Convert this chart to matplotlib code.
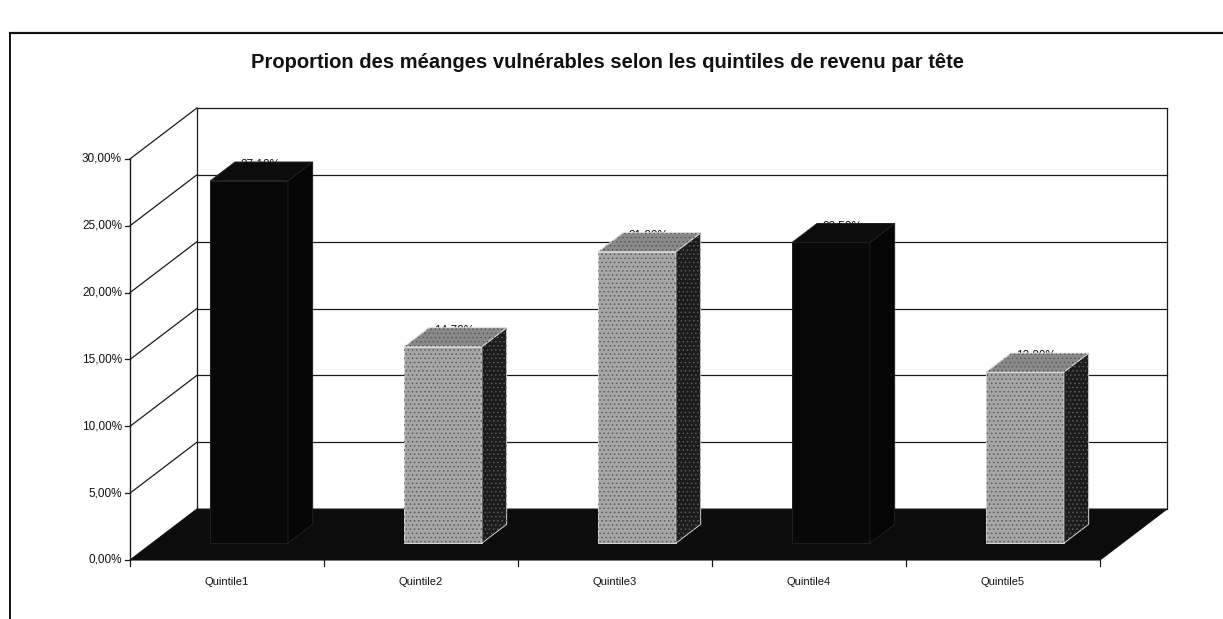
import matplotlib
matplotlib.use('Agg')
import matplotlib.pyplot as plt
from matplotlib.patches import Polygon
from matplotlib.lines import Line2D

plt.rcParams['font.family'] = ['Liberation Sans', 'DejaVu Sans']
plt.rcParams['hatch.linewidth'] = 0.6

# Données
categories = ['Quintile1', 'Quintile2', 'Quintile3', 'Quintile4', 'Quintile5']
valeurs = [27.10, 14.70, 21.80, 22.50, 12.80]
labels_valeurs = ['27,10%', '14,70%', '21,80%', '22,50%', '12,80%']
ticks_y = [0, 5, 10, 15, 20, 25, 30]
labels_y = ['0,00%', '5,00%', '10,00%', '15,00%', '20,00%', '25,00%', '30,00%']
couleurs = ['noir', 'gris', 'gris', 'noir', 'gris']

titre = 'Proportion des méanges vulnérables selon les quintiles de revenu par tête'

# Effet 3D (profondeur en unités de données)
DX = 0.345
DY = 3.81
F_AV, F_AR = 0.33, 0.70   # position avant / arrière des barres dans la profondeur
DEMI = 0.2               # demi-largeur des barres

fig = plt.figure(figsize=(12.23, 6.19), dpi=100)
ax = fig.add_axes([0, 0, 1, 1])
ax.set_xlim(0.5 - 130 / 194, 0.5 + (1223 - 130) / 194)
ax.set_ylim((560 - 619) / 13.37, 560 / 13.37)
ax.axis('off')

x_g, x_d = 0.5, len(categories) + 0.5
ymax = ticks_y[-1]

# Sol
ax.add_patch(Polygon([(x_g, 0), (x_d, 0), (x_d + DX, DY), (x_g + DX, DY)],
                     closed=True, facecolor='#0c0c0c', edgecolor='#111111', lw=0.8, zorder=1))

# Murs et quadrillage
for t in ticks_y[1:]:
    ax.plot([x_g + DX, x_d + DX], [t + DY, t + DY], color='#1a1a1a', lw=0.9, zorder=0.5)
    ax.plot([x_g, x_g + DX], [t, t + DY], color='#1a1a1a', lw=0.9, zorder=0.5)
ax.plot([x_g + DX, x_g + DX], [DY, ymax + DY], color='#1a1a1a', lw=0.9, zorder=0.5)
ax.plot([x_d + DX, x_d + DX], [DY, ymax + DY], color='#1a1a1a', lw=0.9, zorder=0.5)
ax.plot([x_g, x_g], [0, ymax], color='#1a1a1a', lw=1.0, zorder=0.5)

# Axe Y
for t, lab in zip(ticks_y, labels_y):
    ax.plot([x_g - 5 / 194, x_g], [t, t], color='#1a1a1a', lw=0.9)
    ax.text(x_g - 8 / 194, t, lab, ha='right', va='center', fontsize=8.5, color='#111111')

# Axe X
for k in range(len(categories) + 1):
    ax.plot([x_g + k, x_g + k], [0, -6 / 13.37], color='#1a1a1a', lw=0.9)
for i, cat in enumerate(categories):
    ax.text(i + 1, -1.65, cat, ha='center', va='center', fontsize=8, color='#111111')

# Barres
for i, (v, c, lab) in enumerate(zip(valeurs, couleurs, labels_valeurs)):
    xc = i + 1
    x0, x1 = xc - DEMI, xc + DEMI
    a, b = F_AV * DX, F_AV * DY
    cc, d = F_AR * DX, F_AR * DY
    avant = [(x0 + a, b), (x1 + a, b), (x1 + a, v + b), (x0 + a, v + b)]
    cote = [(x1 + a, b), (x1 + cc, d), (x1 + cc, v + d), (x1 + a, v + b)]
    dessus = [(x0 + a, v + b), (x1 + a, v + b), (x1 + cc, v + d), (x0 + cc, v + d)]
    if c == 'noir':
        faces = [(avant, '#080808'), (cote, '#050505'), (dessus, '#0c0c0c')]
        bord = '#202020'
    else:
        faces = [(avant, '#a6a6a6'), (cote, '#1c1c1c'), (dessus, '#8a8a8a')]
        bord = '#d8d8d8'
    for pts, fc in faces:
        ax.add_patch(Polygon(pts, closed=True, facecolor=fc, edgecolor=bord, lw=0.7, zorder=3))
        if c == 'gris':
            ax.add_patch(Polygon(pts, closed=True, fill=False, hatch='....',
                                 edgecolor='#5a5a5a', lw=0, zorder=3.1))
    # étiquette de valeur (en partie cachée par le dessus de la barre)
    ax.text(xc + 0.5 * DX, v + d - 0.2, lab, ha='center', va='center',
            fontsize=8.5, color='#111111', zorder=2)

# Titre
fig.text(0.497, 1 - 62 / 619, titre, ha='center', va='center',
         fontsize=14.5, fontweight='bold', color='#111111')

# Cadre extérieur (haut et gauche)
xf = 10 / 1223
yf = 1 - 33 / 619
fig.add_artist(Line2D([xf, 1], [yf, yf], transform=fig.transFigure, color='#111111', lw=1.6))
fig.add_artist(Line2D([xf, xf], [0, yf], transform=fig.transFigure, color='#111111', lw=1.4))

fig.savefig('out.png', dpi=100, facecolor='white')
